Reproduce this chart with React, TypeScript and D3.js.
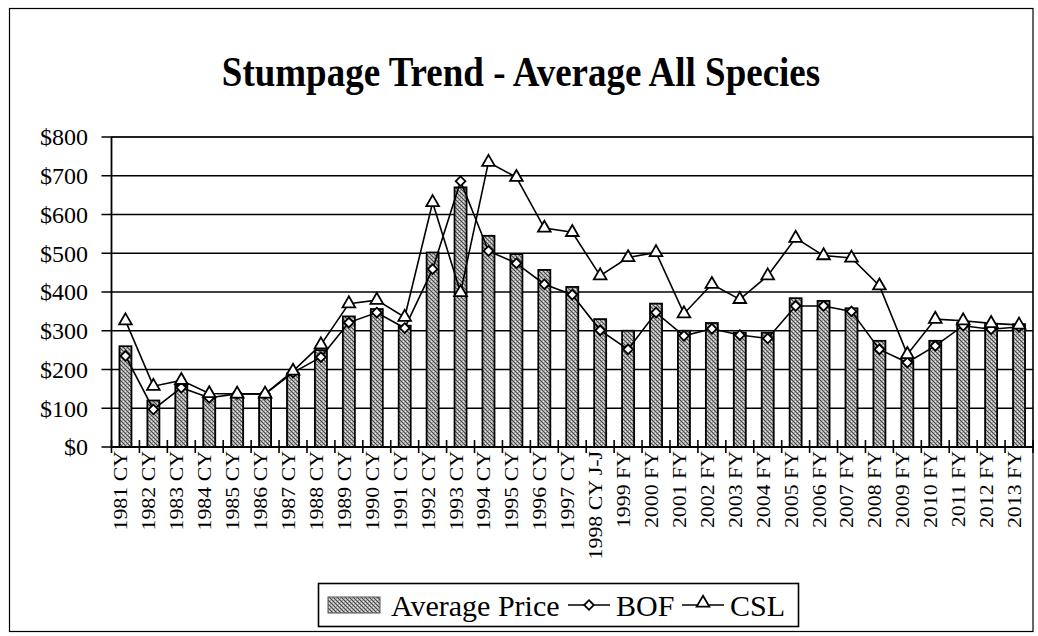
import React, { useEffect, useRef } from 'react';
import * as d3 from 'd3';

const categories = [
  '1981 CY', '1982 CY', '1983 CY', '1984 CY', '1985 CY', '1986 CY', '1987 CY', '1988 CY',
  '1989 CY', '1990 CY', '1991 CY', '1992 CY', '1993 CY', '1994 CY', '1995 CY', '1996 CY',
  '1997 CY', '1998 CY J-J', '1999 FY', '2000 FY', '2001 FY', '2002 FY', '2003 FY', '2004 FY',
  '2005 FY', '2006 FY', '2007 FY', '2008 FY', '2009 FY', '2010 FY', '2011 FY', '2012 FY', '2013 FY',
];

const averagePrice = [
  260, 120, 158, 125, 130, 130, 190, 250, 337, 356, 313, 502, 670, 545, 498, 457,
  413, 330, 300, 370, 300, 320, 295, 295, 384, 377, 358, 274, 222, 274, 321, 317, 317,
];

const bof = [
  235, 97, 153, 127, 137, 137, 192, 232, 321, 347, 307, 459, 686, 506, 474, 420,
  393, 301, 252, 347, 287, 305, 289, 280, 364, 364, 350, 252, 218, 261, 313, 304, 310,
];

const csl = [
  326, 157, 172, 138, 137, 137, 196, 264, 370, 379, 335, 631, 399, 735, 696, 565,
  554, 442, 489, 502, 344, 420, 381, 442, 539, 494, 488, 416, 239, 330, 326, 319, 315,
];

const yTicks = [0, 100, 200, 300, 400, 500, 600, 700, 800];

const W = 1038;
const H = 636;
const serif = '"Liberation Serif", "Times New Roman", serif';

export default function App() {
  const svgRef = useRef<SVGSVGElement | null>(null);

  useEffect(() => {
    if (!svgRef.current) return;
    const svg = d3.select(svgRef.current);
    svg.selectAll('*').remove();

    const left = 111.5;
    const right = 1033;
    const top = 137;
    const bottom = 447;

    // stippled grey fill like the scanned bars
    const defs = svg.append('defs');
    const pat = defs.append('pattern')
      .attr('id', 'stipple')
      .attr('width', 4).attr('height', 4)
      .attr('patternUnits', 'userSpaceOnUse');
    pat.append('rect').attr('width', 4).attr('height', 4).attr('fill', '#a6a6a6');
    [[0, 0], [2, 2], [1, 1], [3, 3]].forEach(([px, py]) => {
      pat.append('rect').attr('x', px).attr('y', py).attr('width', 1).attr('height', 1).attr('fill', '#4a4a4a');
    });
    [[3, 1], [1, 3]].forEach(([px, py]) => {
      pat.append('rect').attr('x', px).attr('y', py).attr('width', 1).attr('height', 1).attr('fill', '#e6e6e6');
    });

    // outer frame
    svg.append('rect')
      .attr('x', 9.5).attr('y', 8.5)
      .attr('width', right - 9.5).attr('height', 623)
      .attr('fill', 'white').attr('stroke', '#000').attr('stroke-width', 1.2);

    svg.append('text')
      .attr('transform', 'translate(521,86) scale(1,1.15)')
      .attr('text-anchor', 'middle')
      .attr('font-family', serif)
      .attr('font-weight', 'bold')
      .attr('font-size', 37)
      .text('Stumpage Trend - Average All Species');

    const x = d3.scaleBand<string>().domain(categories).range([left, right]).padding(0);
    const y = d3.scaleLinear().domain([0, 800]).range([bottom, top]);
    const barW = x.bandwidth() * 0.43;
    const cx = (i: number) => (x(categories[i]) as number) + x.bandwidth() / 2;

    // plot box + grid
    svg.append('rect')
      .attr('x', left).attr('y', top)
      .attr('width', right - left).attr('height', bottom - top)
      .attr('fill', 'none').attr('stroke', '#000').attr('stroke-width', 1);

    svg.append('g')
      .selectAll('line')
      .data(yTicks)
      .enter()
      .append('line')
      .attr('x1', left - 10).attr('x2', right)
      .attr('y1', d => y(d)).attr('y2', d => y(d))
      .attr('stroke', '#000').attr('stroke-width', 1.6);

    svg.append('g')
      .selectAll('text')
      .data(yTicks)
      .enter()
      .append('text')
      .attr('x', 88)
      .attr('y', d => y(d))
      .attr('dy', '0.35em')
      .attr('text-anchor', 'end')
      .attr('font-family', serif)
      .attr('font-size', 24)
      .text(d => `$${d}`);

    // bars
    svg.append('g')
      .selectAll('rect')
      .data(averagePrice)
      .enter()
      .append('rect')
      .attr('x', (d, i) => cx(i) - barW / 2)
      .attr('y', d => y(d))
      .attr('width', barW)
      .attr('height', d => bottom - y(d))
      .attr('fill', 'url(#stipple)')
      .attr('stroke', '#000')
      .attr('stroke-width', 1.8);

    // axes lines
    svg.append('line')
      .attr('x1', left).attr('x2', left).attr('y1', top).attr('y2', bottom)
      .attr('stroke', '#000').attr('stroke-width', 1.8);
    svg.append('line')
      .attr('x1', left).attr('x2', right).attr('y1', bottom).attr('y2', bottom)
      .attr('stroke', '#000').attr('stroke-width', 2);

    // x ticks between categories
    const tickPos = categories.map(c => x(c) as number).concat([right]);
    svg.append('g')
      .selectAll('line')
      .data(tickPos)
      .enter()
      .append('line')
      .attr('x1', d => d).attr('x2', d => d)
      .attr('y1', bottom - 7).attr('y2', bottom + 6)
      .attr('stroke', '#000').attr('stroke-width', 1.6);

    // x labels
    svg.append('g')
      .selectAll('text')
      .data(categories)
      .enter()
      .append('text')
      .attr('transform', (d, i) => `translate(${cx(i) + 2},${bottom + 4}) rotate(-90) scale(1.15,1)`)
      .attr('text-anchor', 'end')
      .attr('font-family', serif)
      .attr('font-size', 19)
      .text(d => d);

    const line = d3.line<number>()
      .x((d, i) => cx(i))
      .y(d => y(d));

    svg.append('path')
      .datum(bof)
      .attr('d', line)
      .attr('fill', 'none').attr('stroke', '#000').attr('stroke-width', 1.6);
    svg.append('path')
      .datum(csl)
      .attr('d', line)
      .attr('fill', 'none').attr('stroke', '#000').attr('stroke-width', 1.6);

    const diamond = d3.symbol().type(d3.symbolDiamond2).size(60);
    const triangle = d3.symbol().type(d3.symbolTriangle2).size(115);

    svg.append('g')
      .selectAll('path')
      .data(bof)
      .enter()
      .append('path')
      .attr('d', diamond as any)
      .attr('transform', (d, i) => `translate(${cx(i)},${y(d)})`)
      .attr('fill', 'white').attr('stroke', '#000').attr('stroke-width', 1.8);

    svg.append('g')
      .selectAll('path')
      .data(csl)
      .enter()
      .append('path')
      .attr('d', triangle as any)
      .attr('transform', (d, i) => `translate(${cx(i)},${y(d)})`)
      .attr('fill', 'white').attr('stroke', '#000').attr('stroke-width', 1.8);

    // legend
    const lg = svg.append('g');
    const ly = 605;
    lg.append('rect')
      .attr('x', 318.5).attr('y', 583.5).attr('width', 480).attr('height', 43)
      .attr('fill', 'white').attr('stroke', '#000').attr('stroke-width', 1.6);
    lg.append('rect')
      .attr('x', 328).attr('y', ly - 8).attr('width', 52).attr('height', 16)
      .attr('fill', 'url(#stipple)').attr('stroke', '#555').attr('stroke-width', 1);
    const legendText = (tx: number, t: string) => lg.append('text')
      .attr('x', tx).attr('y', ly).attr('dy', '0.35em')
      .attr('font-family', serif).attr('font-size', 30)
      .text(t);
    legendText(391, 'Average Price');
    lg.append('line').attr('x1', 568).attr('x2', 610).attr('y1', ly).attr('y2', ly)
      .attr('stroke', '#000').attr('stroke-width', 1.6);
    lg.append('path').attr('d', diamond as any).attr('transform', `translate(589,${ly})`)
      .attr('fill', 'white').attr('stroke', '#000').attr('stroke-width', 1.8);
    legendText(616, 'BOF');
    lg.append('line').attr('x1', 682).attr('x2', 724).attr('y1', ly).attr('y2', ly)
      .attr('stroke', '#000').attr('stroke-width', 1.6);
    lg.append('path').attr('d', triangle as any).attr('transform', `translate(703,${ly - 2})`)
      .attr('fill', 'white').attr('stroke', '#000').attr('stroke-width', 1.8);
    legendText(730, 'CSL');
  }, []);

  return (
    <svg
      ref={svgRef}
      width={W}
      height={H}
      style={{ position: 'absolute', left: 0, top: 0, background: 'white' }}
    />
  );
}
